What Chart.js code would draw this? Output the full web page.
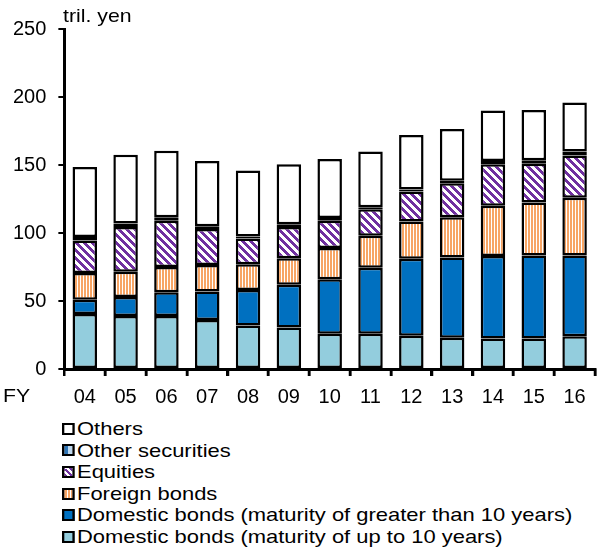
<!DOCTYPE html>
<html>
<head>
<meta charset="utf-8">
<script src="https://cdn.jsdelivr.net/npm/chart.js@4/dist/chart.umd.min.js"></script>
<style>
  html, body { margin: 0; padding: 0; background: #fff; }
  body { width: 600px; height: 549px; position: relative; overflow: hidden; font-family: "Liberation Sans", Arial, sans-serif; }
  #wrap { position: absolute; left: 0; top: 0; width: 600px; height: 418px; }
  #legend { position: absolute; left: 62px; top: 418px; margin: 0; padding: 0; list-style: none; font-size: 19px; color: #000; transform: scaleX(1.155); transform-origin: 0 0; }
  #legend li { height: 21.6px; line-height: 21.6px; display: flex; align-items: center; white-space: nowrap; }
  #legend .sw { width: 7px; height: 8px; border: 2px solid #000; margin-right: 2px; flex: none; }
</style>
</head>
<body>
<div id="wrap"><canvas id="chart" width="600" height="418"></canvas></div>
<ul id="legend"></ul>
<script>
// ---- data (tril. yen) ----
const years = ['04', '05', '06', '07', '08', '09', '10', '11', '12', '13', '14', '15', '16'];
const domesticShort = [40.5, 39, 39, 36, 32, 30.5, 26, 26, 24.5, 23, 22.5, 22.5, 24];
const domesticLong  = [10.5, 14, 17.5, 21, 26, 31.5, 40, 48.5, 56.5, 59, 60.5, 61, 59.5];
const foreignBonds  = [19.5, 18.5, 18.5, 19.5, 19, 19.5, 23, 23.5, 27.5, 29.5, 37, 39, 42.5];
const equities      = [24, 33, 34, 26.5, 19, 23, 20, 19.5, 22, 25, 30.5, 28.5, 31];
const otherSecs     = [2.5, 2.5, 2.5, 2, 1.5, 2, 2, 1.5, 1.5, 2, 2.5, 2.5, 3];
const others        = [51.6, 50.5, 49, 48, 48.5, 44, 43.5, 41, 40, 38, 37, 37, 36];
const yTicks = [0, 50, 100, 150, 200, 250];

const FONT = '"Liberation Sans", Arial, sans-serif';

// ---- fill patterns ----
function makePattern(w, h, paint) {
  const c = document.createElement('canvas');
  c.width = w; c.height = h;
  const g = c.getContext('2d');
  paint(g, w, h);
  return c;
}
const vStripe = makePattern(3, 3, (g) => {
  g.fillStyle = '#fff'; g.fillRect(0, 0, 3, 3);
  g.fillStyle = '#F7A565'; g.fillRect(0, 0, 2, 3);
});
const dStripe = makePattern(8, 8, (g, w, h) => {
  const img = g.createImageData(w, h);
  for (let y = 0; y < h; y++) {
    for (let x = 0; x < w; x++) {
      const i = (y * w + x) * 4;
      const on = ((x - y) % 8 + 8) % 8 < 4;
      img.data[i] = on ? 0x70 : 255;
      img.data[i + 1] = on ? 0x30 : 255;
      img.data[i + 2] = on ? 0xA0 : 255;
      img.data[i + 3] = 255;
    }
  }
  g.putImageData(img, 0, 0);
});
const dash = makePattern(6, 4, (g) => {
  g.fillStyle = '#BDD7EE'; g.fillRect(0, 0, 6, 4);
  g.fillStyle = '#2E75B6'; g.fillRect(0, 0, 3, 4);
});

const ctx = document.getElementById('chart').getContext('2d');
const series = [
  { label: 'Domestic bonds (maturity of up to 10 years)', data: domesticShort, fill: '#93CDDD', css: '#93CDDD' },
  { label: 'Domestic bonds (maturity of greater than 10 years)', data: domesticLong, fill: '#0070C0', css: '#0070C0' },
  { label: 'Foreign bonds', data: foreignBonds, fill: ctx.createPattern(vStripe, 'repeat'), css: 'repeating-linear-gradient(90deg,#F7A565 0 2px,#fff 2px 3px)' },
  { label: 'Equities', data: equities, fill: ctx.createPattern(dStripe, 'repeat'), css: 'repeating-linear-gradient(45deg,#7030A0 0 2px,#fff 2px 4px)' },
  { label: 'Other securities', data: otherSecs, fill: ctx.createPattern(dash, 'repeat'), css: 'linear-gradient(90deg,#2E75B6 0 40%,#BDD7EE 40% 100%)' },
  { label: 'Others', data: others, fill: '#ffffff', css: '#ffffff' }
];

// axis captions (slightly stretched like the source) and category separators below the x axis
const annotate = {
  id: 'annotate',
  afterDraw(chart) {
    const g = chart.ctx;
    const area = chart.chartArea;
    const put = (txt, x, y) => {
      g.save();
      g.translate(x, y);
      g.scale(1.12, 1);
      g.fillText(txt, 0, 0);
      g.restore();
    };
    g.save();
    g.fillStyle = '#000';
    g.font = '19px ' + FONT;
    g.textBaseline = 'middle';
    g.textAlign = 'left';
    put('tril. yen', 63, 17);
    put('FY', 3, 397);

    const n = years.length;
    const step = (area.right - area.left) / n;
    g.strokeStyle = '#000';
    g.lineWidth = 2.5;
    g.beginPath();
    for (let i = 1; i <= n; i++) {
      const x = Math.round(area.left + i * step);
      g.moveTo(x, area.bottom);
      g.lineTo(x, area.bottom + 7);
    }
    g.stroke();
    g.restore();
  }
};

new Chart(ctx, {
  type: 'bar',
  data: {
    labels: years,
    datasets: series.map(s => ({
      label: s.label,
      data: s.data,
      backgroundColor: s.fill,
      borderColor: '#000',
      borderWidth: 2.5,
      borderSkipped: false,
      categoryPercentage: 0.6,
      barPercentage: 1
    }))
  },
  options: {
    responsive: false,
    animation: false,
    devicePixelRatio: 1,
    layout: { padding: { top: 29, right: 5, left: 1, bottom: 0 } },
    plugins: { legend: { display: false }, tooltip: { enabled: false } },
    scales: {
      x: {
        stacked: true,
        offset: true,
        grid: { offset: true, drawOnChartArea: false, color: '#000', lineWidth: 2.5, tickLength: 7 },
        border: { color: '#000', width: 3 },
        ticks: { color: '#000', font: { size: 20, family: FONT }, padding: 9 }
      },
      y: {
        stacked: true,
        min: 0,
        max: 250,
        afterBuildTicks: axis => { axis.ticks = yTicks.map(v => ({ value: v })); },
        grid: { drawOnChartArea: false, color: '#000', lineWidth: 2, tickLength: 6 },
        border: { color: '#000', width: 3 },
        ticks: { color: '#000', font: { size: 20, family: FONT }, padding: 12 }
      }
    }
  },
  plugins: [annotate]
});

// ---- legend (top to bottom = top of stack first) ----
const ul = document.getElementById('legend');
series.slice().reverse().forEach(s => {
  const li = document.createElement('li');
  const sw = document.createElement('span');
  sw.className = 'sw';
  sw.style.background = s.css;
  li.appendChild(sw);
  li.appendChild(document.createTextNode(s.label));
  ul.appendChild(li);
});
</script>
</body>
</html>
